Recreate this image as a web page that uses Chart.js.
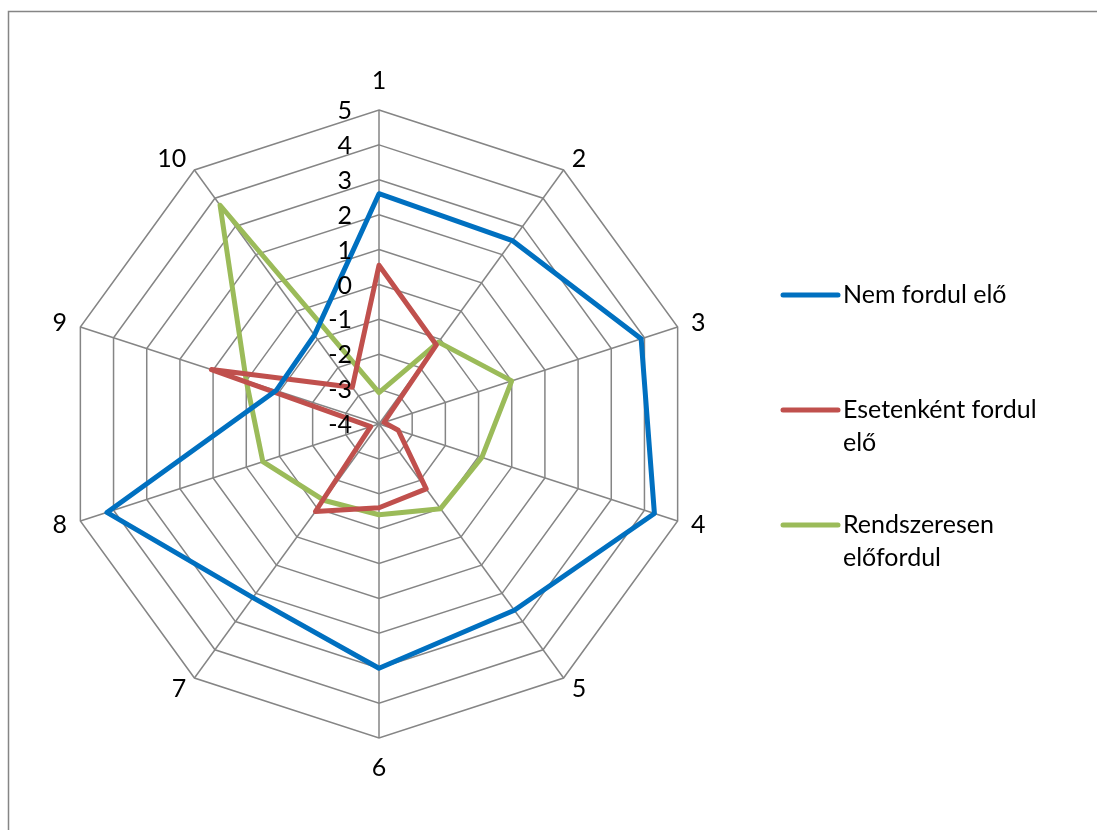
<!DOCTYPE html>
<html>
<head>
<meta charset="utf-8">
<script src="https://cdn.jsdelivr.net/npm/chart.js@4.4.1/dist/chart.umd.min.js"></script>
<style>
html, body { margin: 0; padding: 0; background: #ffffff; }
canvas { display: block; }
</style>
</head>
<body>
<canvas id="c" width="1097" height="830"></canvas>
<script>
// ---- data ----
const categories = ['1', '2', '3', '4', '5', '6', '7', '8', '9', '10'];
const nemFordulElo = [2.6, 2.5, 3.9, 4.3, 2.6, 3.0, 2.15, 4.2, -0.9, -0.85];
const esetenkentFordulElo = [0.55, -1.2, -3.85, -3.42, -1.7, -1.6, -0.9, -3.75, 1.05, -2.7];
const rendszeresenElofordul = [-3.1, -1.1, 0.0, -0.9, -1.0, -1.4, -1.3, -0.5, 0.0, 3.75];
const seriesNames = ['Nem fordul elő', 'Esetenként fordul elő', 'Rendszeresen előfordul'];
const legendLines = [['Nem fordul elő'], ['Esetenként fordul', 'elő'], ['Rendszeresen', 'előfordul']];
const tickValues = [-4, -3, -2, -1, 0, 1, 2, 3, 4, 5];

// ---- styles ----
const COLORS = ['#0070C0', '#C0504D', '#9BBB59'];
const GRID = '#858585';
const FONT = '25px Lato, "Liberation Sans", sans-serif';

const framePlugin = {
  id: 'frame',
  beforeDraw(chart) {
    const ctx = chart.ctx;
    ctx.save();
    ctx.strokeStyle = GRID;
    ctx.lineWidth = 1.5;
    ctx.beginPath();
    ctx.moveTo(8.5, chart.height);
    ctx.lineTo(8.5, 11.5);
    ctx.lineTo(chart.width, 11.5);
    ctx.stroke();
    ctx.restore();
  }
};

const labelsPlugin = {
  id: 'excelLabels',
  afterDraw(chart) {
    const scale = chart.scales.r;
    const ctx = chart.ctx;
    ctx.save();
    ctx.font = FONT;
    ctx.fillStyle = '#000000';
    // category labels
    const n = categories.length;
    for (let i = 0; i < n; i++) {
      const p = scale.getPointPosition(i, scale.drawingArea + 14);
      const a = (2 * Math.PI * i) / n;
      const s = Math.sin(a), c = Math.cos(a);
      ctx.textBaseline = 'middle';
      if (Math.abs(s) < 1e-6) {
        ctx.textAlign = 'center';
        ctx.fillText(categories[i], p.x, p.y - 15.5 * c);
      } else {
        ctx.textAlign = s > 0 ? 'left' : 'right';
        ctx.fillText(categories[i], p.x, p.y);
      }
    }
    // value tick labels along the first axis
    ctx.textAlign = 'right';
    ctx.textBaseline = 'middle';
    tickValues.forEach(v => {
      const d = scale.getDistanceFromCenterForValue(v);
      ctx.fillText(String(v), scale.xCenter - 27, scale.yCenter - d + 1);
    });
    // legend
    const lx = 783, lx2 = 838, tx = 843, y0 = 295, step = 115, lh = 33;
    ctx.textAlign = 'left';
    chart.data.datasets.forEach((ds, i) => {
      const y = y0 + i * step;
      ctx.strokeStyle = ds.borderColor;
      ctx.lineWidth = 5;
      ctx.lineCap = 'round';
      ctx.beginPath();
      ctx.moveTo(lx, y);
      ctx.lineTo(lx2, y);
      ctx.stroke();
      legendLines[i].forEach((t, j) => ctx.fillText(t, tx, y + j * lh));
    });
    ctx.restore();
  }
};

const seriesData = [nemFordulElo, esetenkentFordulElo, rendszeresenElofordul];

new Chart(document.getElementById('c'), {
  type: 'radar',
  data: {
    labels: categories,
    datasets: seriesData.map((d, i) => ({
      label: seriesNames[i],
      data: d,
      borderColor: COLORS[i],
      backgroundColor: COLORS[i],
      borderWidth: 5,
      borderJoinStyle: 'round',
      borderCapStyle: 'round',
      pointRadius: 0,
      pointHoverRadius: 0,
      fill: false,
      tension: 0
    }))
  },
  options: {
    responsive: false,
    animation: false,
    devicePixelRatio: 1,
    layout: { padding: { left: 65, top: 110, right: 404, bottom: 92 } },
    plugins: { legend: { display: false }, tooltip: { enabled: false } },
    scales: {
      r: {
        min: -4,
        max: 5,
        beginAtZero: false,
        ticks: { display: false, stepSize: 1 },
        pointLabels: { display: false },
        grid: { color: GRID, lineWidth: 1.5, circular: false },
        angleLines: { color: GRID, lineWidth: 1.5 }
      }
    }
  },
  plugins: [framePlugin, labelsPlugin]
});
</script>
</body>
</html>
